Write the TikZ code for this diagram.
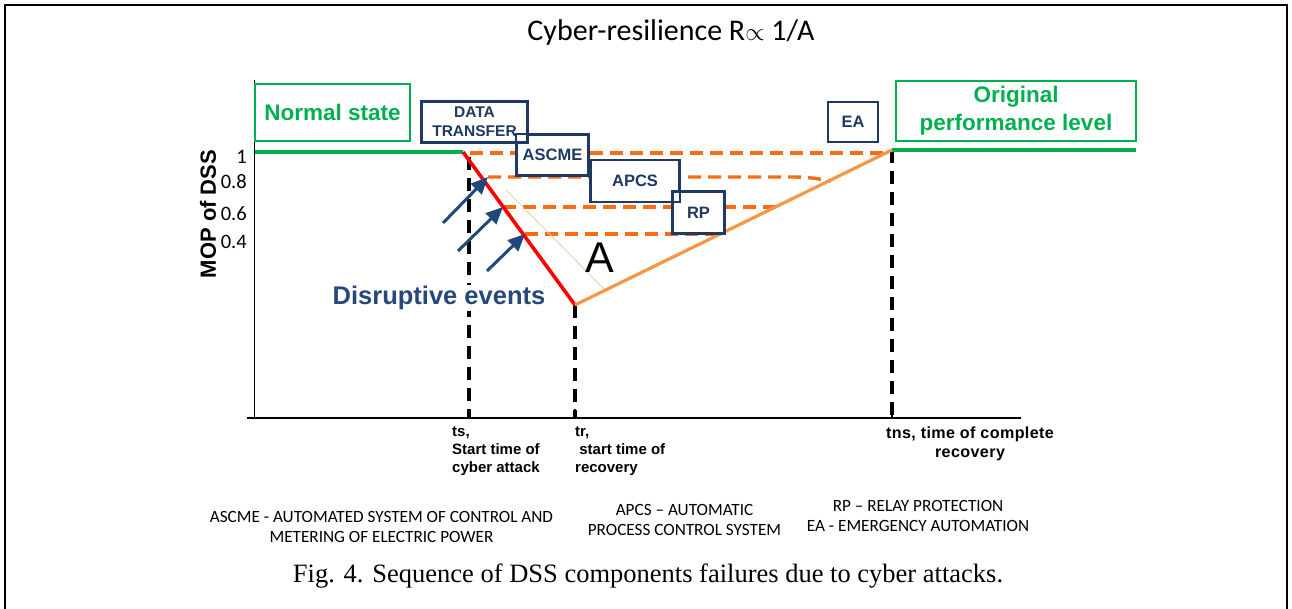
\documentclass[tikz,border=0pt]{standalone}
\usepackage{fontspec}
\setmainfont{Liberation Sans}
\newfontfamily\calfont{Carlito}
\newfontfamily\serfont{Liberation Serif}
\newfontfamily\spacedfont[LetterSpace=2.5]{Liberation Sans}
\usetikzlibrary{arrows.meta}

\definecolor{grn}{RGB}{0,176,80}
\definecolor{navy}{RGB}{31,56,100}
\definecolor{dorange}{RGB}{250,108,20}
\definecolor{lorange}{RGB}{247,150,70}
\definecolor{arrowblue}{RGB}{31,73,125}
\definecolor{evblue}{RGB}{38,72,125}
\definecolor{tanline}{RGB}{225,205,175}

\newcommand{\fsz}[1]{\fontsize{#1}{#1}\selectfont}

\begin{document}
\begin{tikzpicture}[x=1pt,y=-1pt,
  lvl/.style={dorange, line width=3.4pt, dash pattern=on 13pt off 7pt},
  vdash/.style={black, line width=3.2pt, dash pattern=on 13pt off 8pt},
  compbox/.style={draw=navy, line width=1.8pt, fill=white, text=navy,
    font=\fsz{16.5}\bfseries, inner sep=0pt, align=center},
  statebox/.style={draw=grn, line width=1.8pt, fill=white, text=grn,
    font=\fontsize{22.5}{28}\selectfont\bfseries, inner sep=0pt, align=center},
  hitarrow/.style={arrowblue, line width=3pt, -{Triangle[length=17pt,width=15pt]}},
  ticklbl/.style={font=\calfont\fsz{20.5}, anchor=east, inner sep=0pt},
  timelbl/.style={font=\fontsize{15}{18}\selectfont\bfseries, inner sep=0pt},
  legend/.style={font=\calfont\fontsize{17.2}{20}\selectfont, align=center, inner sep=0pt}
]
\useasboundingbox (0,0) rectangle (1292,609);

% outer frame
\draw[line width=2.5pt] (5,620) -- (5,5) -- (1287,5) -- (1287,620);

% title
\node[font=\calfont\fsz{30}] (title) at (671,33) {Cyber-resilience R$\propto$ 1/A};

% key points of the performance curve
\coordinate (ts1) at (463,152);
\coordinate (trb) at (575,305);
\coordinate (tns1) at (892,150);

% axes
\coordinate (yaxtop) at (254,80);
\coordinate (origin) at (254,418);
\coordinate (xaxl) at (247,418);
\coordinate (xaxr) at (1021,418);
\draw[line width=1pt] (yaxtop) -- (origin);
\draw[line width=1.3pt] (xaxl) -- (xaxr);

% vertical time markers
\coordinate (tsb) at (469,418);
\coordinate (trbot) at (575,418);
\coordinate (tnsb) at (892,418);
\draw[vdash] (469,157) -- (tsb);
\draw[vdash] (trb) -- (trbot);
\draw[vdash] (tns1) -- (tnsb);
\foreach \xx in {469,575,892} \draw[line width=2.6pt] (\xx,409) -- (\xx,418);

% restoration levels
\coordinate (l1a) at (470,153);  \coordinate (l1b) at (885,153);
\coordinate (l2a) at (488,177);  \coordinate (l2b) at (792,177); \coordinate (l2c) at (831,181);
\coordinate (l3a) at (503,207);  \coordinate (l3b) at (777,207);
\coordinate (l4a) at (525,234);  \coordinate (l4b) at (722,234);
\draw[lvl] (l1a) -- (l1b);
\draw[lvl] (l2a) -- (l2b) to[out=0,in=170] (l2c);
\draw[lvl] (l3a) -- (l3b);
\draw[lvl] (l4a) -- (l4b);

% area marker
\coordinate (aa) at (506,190);
\coordinate (ab) at (605,290);
\draw[tanline, line width=0.8pt] (aa) -- (ab);
\node[font=\fsz{43}, inner sep=0pt] (areaA) at (600,258) {A};

% normal and recovered levels
\coordinate (nl) at (255,152);
\coordinate (orr) at (1136,150);
\draw[grn, line width=4.2pt] (nl) -- (ts1);
\draw[grn, line width=3.6pt] (tns1) -- (orr);

% degradation and recovery
\draw[red, line width=3.6pt] (ts1) -- (trb);
\draw[lorange, line width=3.2pt] (trb) -- (tns1);

% disruptive events
\coordinate (a1s) at (443,223); \coordinate (a1e) at (488,177);
\coordinate (a2s) at (458,251); \coordinate (a2e) at (503,207);
\coordinate (a3s) at (487,271); \coordinate (a3e) at (525,234);
\draw[hitarrow] (a1s) -- (a1e);
\draw[hitarrow] (a2s) -- (a2e);
\draw[hitarrow] (a3s) -- (a3e);
\node[font=\fontsize{25.5}{25.5}\selectfont\bfseries, text=evblue, fill=white, inner sep=1pt] (events) at (439,298) {Disruptive events};

% state boxes
\node[statebox, minimum width=155pt, minimum height=57pt] (normal) at (332.5,112.5) {Normal state};
\node[statebox, minimum width=240pt, minimum height=60pt] (orig) at (1016,111) {Original\\performance level};

% component boxes
\node[compbox, minimum width=71pt, minimum height=40pt] (ascme) at (552.5,155) {ASCME};
\node[compbox, minimum width=105pt, minimum height=40pt, font=\fontsize{15.5}{19}\selectfont\bfseries] (dt) at (474.5,122) {DATA\\TRANSFER};
\node[compbox, minimum width=88pt, minimum height=41pt] (apcs) at (635,181) {APCS};
\node[compbox, minimum width=51pt, minimum height=41pt] (rp) at (698.5,212.5) {RP};
\node[compbox, minimum width=50pt, minimum height=40pt] (ea) at (853,122) {EA};
\foreach \b in {ascme,dt,apcs,rp}
  \draw[navy, line width=1.8pt] (\b.south west) rectangle (\b.north east);

% axis labels
\node[rotate=90, font=\fsz{22}\bfseries, inner sep=0pt] (ylbl) at (208,214) {MOP of DSS};
\node[ticklbl] (t1) at (247,157) {1};
\node[ticklbl] (t08) at (247,182) {0.8};
\node[ticklbl] (t06) at (247,214) {0.6};
\node[ticklbl] (t04) at (247,242) {0.4};

\node[timelbl, anchor=north west, align=left] (tslbl) at (452,427) {ts,\\Start time of\\cyber attack};
\node[timelbl, anchor=north west, align=left] (trlbl) at (575,427) {tr,\\\ start time of\\recovery};
\node[timelbl, anchor=north, align=center, font=\spacedfont\fontsize{16.1}{19}\selectfont\bfseries] (tnslbl) at (970,427) {tns, time of complete\\recovery};

% abbreviations
\node[legend] (lg1) at (381.5,527) {ASCME - AUTOMATED SYSTEM OF CONTROL AND\\METERING OF ELECTRIC POWER};
\node[legend] (lg2) at (684.5,520) {APCS – AUTOMATIC\\PROCESS CONTROL SYSTEM};
\node[legend] (lg3) at (918,516) {RP – RELAY PROTECTION\\EA - EMERGENCY AUTOMATION};

% caption
\node[font=\serfont\fsz{26.5}, inner sep=0pt] (caption) at (648,576) {Fig. 4. Sequence of DSS components failures due to cyber attacks.};
\end{tikzpicture}
\end{document}
